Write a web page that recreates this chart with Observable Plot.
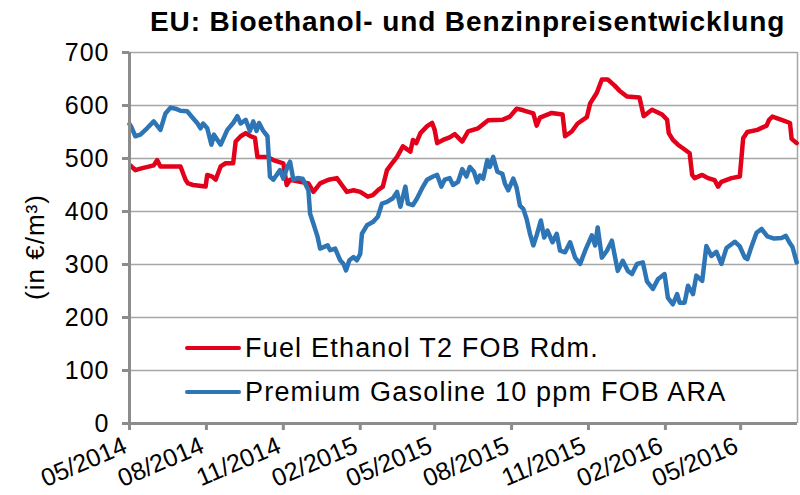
<!DOCTYPE html>
<html>
<head>
<meta charset="utf-8">
<script src="https://cdn.jsdelivr.net/npm/d3@7"></script>
<script src="https://cdn.jsdelivr.net/npm/@observablehq/plot@0.6"></script>
<style>
  body { margin: 0; background: #fff; }
  #wrap { position: relative; width: 800px; height: 495px; font-family: "Liberation Sans", Arial, sans-serif; color: #000; }
  #title { position: absolute; left: 150px; top: 8px; font-weight: bold; font-size: 28px; line-height: 28px; letter-spacing: 0.9px; white-space: nowrap; }
  #chart { position: absolute; left: 0; top: 44px; }
  #chart svg g[aria-label="y-axis tick label"] { letter-spacing: 1px; }
  #ylabel { position: absolute; left: 35px; top: 247px; transform: translate(-50%, -50%) rotate(-90deg); font-size: 26px; line-height: 30px; letter-spacing: 1px; white-space: nowrap; }
  .leg { position: absolute; left: 185px; display: flex; align-items: center; height: 30px; font-size: 27px; line-height: 30px; letter-spacing: 1.2px; white-space: nowrap; }
  .leg .sw { width: 56px; height: 4.5px; border-radius: 2.5px; margin-right: 4px; }
</style>
</head>
<body>
<div id="wrap">
  <div id="title">EU: Bioethanol- und Benzinpreisentwicklung</div>
  <div id="chart"></div>
  <div id="ylabel">(in €/m³)</div>
  <div class="leg" id="leg1" style="top:333px"><span class="sw" style="background:#E2001A"></span><span>Fuel Ethanol T2 FOB Rdm.</span></div>
  <div class="leg" id="leg2" style="top:377px"><span class="sw" style="background:#2E75B6"></span><span>Premium Gasoline 10 ppm FOB ARA</span></div>
</div>
<script>
// ---- data ----
const seriesNames = ["Fuel Ethanol T2 FOB Rdm.", "Premium Gasoline 10 ppm FOB ARA"];

const ethanolDates = ["2014-05-02","2014-05-08","2014-05-14","2014-05-30","2014-06-03","2014-06-07","2014-07-01","2014-07-07","2014-07-10","2014-07-16","2014-07-31","2014-08-02","2014-08-08","2014-08-12","2014-08-18","2014-08-24","2014-09-02","2014-09-05","2014-09-11","2014-09-17","2014-09-23","2014-09-28","2014-10-01","2014-10-13","2014-10-20","2014-11-01","2014-11-05","2014-11-09","2014-11-21","2014-12-01","2014-12-07","2014-12-15","2014-12-25","2015-01-04","2015-01-10","2015-01-16","2015-01-24","2015-02-01","2015-02-10","2015-02-16","2015-02-22","2015-02-28","2015-03-05","2015-03-11","2015-03-17","2015-03-24","2015-04-02","2015-04-05","2015-04-09","2015-04-14","2015-04-22","2015-04-28","2015-05-01","2015-05-04","2015-05-11","2015-05-19","2015-05-25","2015-06-03","2015-06-10","2015-06-22","2015-07-04","2015-07-21","2015-07-30","2015-08-07","2015-08-15","2015-08-27","2015-08-31","2015-09-04","2015-09-18","2015-10-01","2015-10-04","2015-10-12","2015-10-19","2015-10-30","2015-11-03","2015-11-11","2015-11-17","2015-11-24","2015-12-02","2015-12-08","2015-12-17","2016-01-01","2016-01-06","2016-01-16","2016-01-28","2016-02-03","2016-02-05","2016-02-10","2016-02-16","2016-02-24","2016-03-01","2016-03-04","2016-03-07","2016-03-16","2016-03-23","2016-03-31","2016-04-04","2016-04-08","2016-04-20","2016-04-30","2016-05-04","2016-05-09","2016-05-21","2016-06-01","2016-06-04","2016-06-08","2016-06-19","2016-06-29","2016-07-01","2016-07-07"];
const ethanolValues = [487,478,481,487,497,485,485,460,453,450,447,469,466,460,485,491,491,532,542,548,542,539,503,503,497,491,450,460,456,453,437,453,460,463,450,437,440,437,428,431,440,447,478,491,503,523,513,535,529,548,561,567,554,529,535,540,546,532,551,557,572,573,579,594,591,585,562,577,586,583,542,551,566,578,604,624,649,649,638,628,617,615,580,592,583,573,548,535,526,517,510,469,463,469,463,459,447,456,463,466,538,550,554,562,573,579,573,567,537,529];

const gasolineDates = ["2014-05-01","2014-05-03","2014-05-08","2014-05-14","2014-05-22","2014-05-30","2014-06-03","2014-06-07","2014-06-13","2014-06-19","2014-06-25","2014-07-01","2014-07-09","2014-07-16","2014-07-21","2014-07-25","2014-07-28","2014-08-02","2014-08-07","2014-08-10","2014-08-18","2014-08-26","2014-09-02","2014-09-07","2014-09-11","2014-09-17","2014-09-22","2014-09-26","2014-09-30","2014-10-03","2014-10-08","2014-10-13","2014-10-16","2014-10-20","2014-10-28","2014-11-01","2014-11-06","2014-11-09","2014-11-13","2014-11-18","2014-11-24","2014-11-27","2014-12-01","2014-12-03","2014-12-07","2014-12-12","2014-12-15","2014-12-24","2014-12-27","2015-01-02","2015-01-08","2015-01-12","2015-01-15","2015-01-19","2015-01-24","2015-01-28","2015-02-01","2015-02-03","2015-02-09","2015-02-16","2015-02-22","2015-02-27","2015-03-05","2015-03-12","2015-03-17","2015-03-21","2015-03-27","2015-03-30","2015-04-05","2015-04-10","2015-04-16","2015-04-22","2015-04-29","2015-05-04","2015-05-09","2015-05-13","2015-05-19","2015-05-23","2015-05-29","2015-06-03","2015-06-08","2015-06-12","2015-06-17","2015-06-21","2015-06-24","2015-06-28","2015-07-03","2015-07-06","2015-07-10","2015-07-15","2015-07-21","2015-07-24","2015-07-28","2015-08-03","2015-08-07","2015-08-11","2015-08-15","2015-08-19","2015-08-23","2015-08-27","2015-08-31","2015-09-05","2015-09-09","2015-09-13","2015-09-19","2015-09-24","2015-09-28","2015-10-04","2015-10-10","2015-10-16","2015-10-22","2015-10-28","2015-11-05","2015-11-09","2015-11-12","2015-11-17","2015-11-23","2015-11-29","2015-12-02","2015-12-06","2015-12-12","2015-12-18","2015-12-23","2015-12-29","2016-01-05","2016-01-10","2016-01-17","2016-01-23","2016-01-31","2016-02-04","2016-02-10","2016-02-15","2016-02-18","2016-02-24","2016-02-28","2016-03-05","2016-03-09","2016-03-16","2016-03-21","2016-03-27","2016-04-02","2016-04-08","2016-04-14","2016-04-24","2016-04-30","2016-05-06","2016-05-09","2016-05-14","2016-05-20","2016-05-26","2016-06-02","2016-06-10","2016-06-19","2016-06-24","2016-06-29","2016-07-02","2016-07-07"];
const gasolineValues = [565,560,542,545,557,570,562,554,585,596,594,590,589,576,567,557,566,557,526,545,526,554,567,580,566,573,552,570,552,567,552,542,466,460,478,462,485,494,460,463,462,453,440,396,377,352,330,336,327,330,308,301,289,308,314,308,320,358,374,380,390,415,418,425,437,409,447,415,412,425,444,460,466,469,447,460,463,450,456,480,466,484,475,455,468,462,497,484,503,475,471,453,440,462,445,411,405,386,358,336,355,383,351,364,342,358,326,323,342,313,301,326,355,336,370,313,326,345,320,288,307,288,282,301,304,268,254,272,282,237,225,244,228,228,260,244,279,269,335,316,324,301,331,343,334,313,310,334,360,367,353,349,350,354,340,333,304];

const yTicks = [0, 100, 200, 300, 400, 500, 600, 700];
const xTickLabels = ["05/2014","08/2014","11/2014","02/2015","05/2015","08/2015","11/2015","02/2016","05/2016"];
const xDomain = ["2014-05-01", "2016-07-08"];

// ---- build tables ----
const parse = d3.utcParse("%Y-%m-%d");
const parseTick = d3.utcParse("%m/%Y");
const ethanol = ethanolDates.map((d, i) => ({date: parse(d), value: ethanolValues[i], series: seriesNames[0]}));
const gasoline = gasolineDates.map((d, i) => ({date: parse(d), value: gasolineValues[i], series: seriesNames[1]}));
const xTicks = xTickLabels.map(parseTick);
const xd = xDomain.map(parse);

const RED = "#E2001A", BLUE = "#2E75B6", AXIS = "#8C8C8C", GRID = "#A6A6A6";

const chart = Plot.plot({
  width: 800,
  height: 451,
  marginTop: 8,
  marginBottom: 72,
  marginLeft: 129,
  marginRight: 3,
  x: {type: "utc", domain: xd},
  y: {domain: [0, 700]},
  style: {fontFamily: "'Liberation Sans', Arial, sans-serif", fontSize: "24px", color: "#000", overflow: "visible", background: "transparent"},
  marks: [
    Plot.ruleY(yTicks.filter(d => d > 0), {stroke: GRID, strokeWidth: 1.5}),
    Plot.ruleX([xd[1]], {stroke: GRID, strokeWidth: 1.5}),
    Plot.line(ethanol, {x: "date", y: "value", stroke: RED, strokeWidth: 4.5, strokeLinejoin: "round", strokeLinecap: "round"}),
    Plot.line(gasoline, {x: "date", y: "value", stroke: BLUE, strokeWidth: 4.5, strokeLinejoin: "round", strokeLinecap: "round"}),
    Plot.ruleX([xd[0]], {stroke: AXIS, strokeWidth: 3}),
    Plot.ruleY([0], {stroke: AXIS, strokeWidth: 3}),
    Plot.axisY(yTicks, {tickSize: 7, tickPadding: 13, stroke: AXIS, strokeWidth: 3, fill: "#000", fontSize: 25, label: null}),
    Plot.axisX(xTicks, {tickSize: 7, stroke: AXIS, strokeWidth: 3, fill: "none", label: null}),
    Plot.text(xTicks, {x: d => d, frameAnchor: "bottom", text: (d, i) => xTickLabels[i], rotate: -23, textAnchor: "end", lineAnchor: "middle", dx: -4, dy: 21, fontSize: 25, fill: "#000"})
  ]
});
document.getElementById("chart").appendChild(chart);
</script>
</body>
</html>
